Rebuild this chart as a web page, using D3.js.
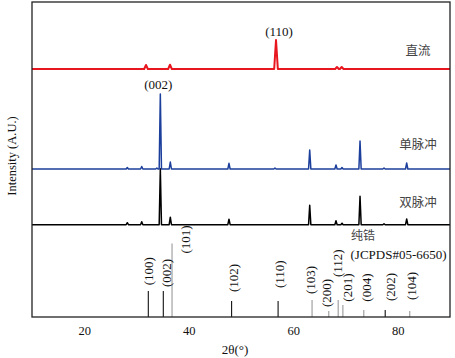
<!DOCTYPE html>
<html>
<head>
<meta charset="utf-8">
<script src="https://cdn.jsdelivr.net/npm/d3@7"></script>
<style>
  html, body { margin: 0; padding: 0; background: #fff; }
  svg { display: block; }
</style>
</head>
<body>
<svg id="chart" width="455" height="358"></svg>
<script>
// ---------------- data ----------------
const xTicks = [20, 40, 60, 80];

// peak lists [2theta, intensity (A.U.)]
const dcPeaks = [[31.82, 4], [36.41, 4.3], [56.7, 29], [68.37, 2], [69.27, 2]];
const singlePeaks = [[28.24, 1.5], [31.0, 2.5], [33.9, 1], [34.56, 75], [36.47, 7], [47.7, 5.7],
  [56.5, 1], [63.15, 19], [68.18, 4], [69.33, 1.5], [72.78, 28], [77.37, 1], [81.71, 6]];
const doublePeaks = [[28.24, 2], [31.0, 3], [34.56, 56], [36.47, 7.5], [47.7, 5.5],
  [63.15, 19.5], [68.18, 4], [69.33, 1.5], [72.78, 28.5], [77.37, 1], [81.71, 5.7]];

// series names and vertical offsets (A.U.)
const seriesNames = ["直流", "单脉冲", "双脉冲"];
const seriesOffsets = [248, 148, 92.3];

// reference pattern: pure Zr JCPDS#05-6650
const refHkl = ["(100)", "(002)", "(101)", "(102)", "(110)", "(103)", "(200)", "(112)", "(201)", "(004)", "(202)", "(104)"];
const refPos = [32.26, 35.13, 36.8, 48.2, 57.1, 63.6, 66.8, 68.6, 69.5, 73.5, 77.6, 82.3];
const refInt = [26, 26, 73.5, 16, 16, 17, 6, 17, 12, 7, 7, 6];
const refDark = [true, true, false, true, true, false, false, false, false, false, true, false];

// ---------------- layout ----------------
const SERIF = "'Liberation Serif', 'Times New Roman', 'DejaVu Serif', serif";
const CJK = "'Noto Sans CJK SC', sans-serif";
const margin = { left: 32, right: 5, top: 2, bottom: 41 };
const W = 455, H = 358;
const svg = d3.select("#chart").attr("font-family", SERIF);

const x = d3.scaleLinear().domain([10, 90]).range([margin.left, W - margin.right]);
const y = d3.scaleLinear().domain([0, 315]).range([H - margin.bottom, margin.top]);

const colors = ["#e8161e", "#1c3f9c", "#000000"];
const widths = [2, 1.5, 1.5];
const peakHalf = [0.35, 0.22, 0.22];
// label offsets for hkl labels [dx px, gap px above bar]
const hklDx = [0, 3.4, 13, 2.3, 1.5, -2, -2, -1, 5, 3, 5, 1.7];
const hklGap = [5.7, 4, -10, 9, 13, 6, 4, 23, 3.3, 8.3, 9, 11];

svg.append("clipPath").attr("id", "clip").append("rect")
  .attr("x", x.range()[0]).attr("y", y.range()[1])
  .attr("width", x.range()[1] - x.range()[0]).attr("height", y.range()[0] - y.range()[1]);

// build pattern points from peak list
function pattern(peaks, offset, hw) {
  const pts = [[10, offset]];
  peaks.slice().sort((a, b) => a[0] - b[0]).forEach(([p, h]) => {
    pts.push([p - hw, offset]);
    pts.push([p, offset + h]);
    pts.push([p + hw, offset]);
  });
  pts.push([90, offset]);
  return pts;
}

const line = d3.line().x(d => x(d[0])).y(d => y(d[1]));
const allPeaks = [dcPeaks, singlePeaks, doublePeaks];

const g = svg.append("g").attr("clip-path", "url(#clip)");

// reference bars
g.selectAll("line.ref").data(refPos).enter().append("line")
  .attr("class", "ref")
  .attr("x1", d => x(d)).attr("x2", d => x(d))
  .attr("y1", y(0)).attr("y2", (d, i) => y(refInt[i]))
  .attr("stroke", (d, i) => refDark[i] ? "#111" : "#999")
  .attr("stroke-width", 1.1);

// patterns: draw bottom first so blue overlays black peak
[2, 1, 0].forEach(i => {
  g.append("path")
    .datum(pattern(allPeaks[i], seriesOffsets[i], peakHalf[i]))
    .attr("d", line)
    .attr("fill", "none")
    .attr("stroke", colors[i])
    .attr("stroke-width", widths[i])
    .attr("stroke-linejoin", "round");
});

// hkl labels on reference bars
refHkl.forEach((t, i) => {
  const px = x(refPos[i]) + hklDx[i];
  const py = y(refInt[i]) - hklGap[i];
  svg.append("text")
    .attr("transform", `translate(${px},${py}) rotate(-90)`)
    .attr("dy", "0.35em")
    .attr("font-family", SERIF)
    .attr("font-size", 13)
    .attr("fill", "#111")
    .text(t);
});

// frame
svg.append("rect")
  .attr("x", x.range()[0]).attr("y", y.range()[1])
  .attr("width", x.range()[1] - x.range()[0]).attr("height", y.range()[0] - y.range()[1])
  .attr("fill", "none").attr("stroke", "#222").attr("stroke-width", 1.3);

// x axis
const xAxis = svg.append("g")
  .attr("transform", `translate(0,${y(0)})`)
  .call(d3.axisBottom(x).tickValues(xTicks).tickSize(0).tickPadding(9))
  .attr("font-family", SERIF);
xAxis.select(".domain").remove();
xAxis.selectAll("text")
  .attr("font-family", SERIF)
  .attr("font-size", 12.5).attr("fill", "#111");

// axis titles
svg.append("text").attr("x", 235).attr("y", 354)
  .attr("text-anchor", "middle").attr("font-family", SERIF).attr("font-size", 13).attr("fill", "#111")
  .text("2θ(°)");
svg.append("text")
  .attr("transform", `translate(12,156) rotate(-90)`)
  .attr("text-anchor", "middle").attr("dy", "0.35em")
  .attr("font-family", SERIF).attr("font-size", 12.5).attr("fill", "#111")
  .text("Intensity (A.U.)");

// peak annotations
svg.append("text").attr("x", x(56.7) + 3).attr("y", 36)
  .attr("text-anchor", "middle").attr("font-family", SERIF).attr("font-size", 13).attr("fill", "#111").text("(110)");
svg.append("text").attr("x", x(34.56) - 2).attr("y", 89)
  .attr("text-anchor", "middle").attr("font-family", SERIF).attr("font-size", 13).attr("fill", "#111").text("(002)");

// series labels
const seriesLabelY = [51, 145, 203];
seriesNames.forEach((n, i) => {
  svg.append("text")
    .attr("x", 418).attr("y", seriesLabelY[i]).attr("dy", "0.35em")
    .attr("text-anchor", "middle").attr("font-family", CJK).attr("font-size", 12.5).attr("fill", "#444")
    .text(n);
});

// reference label
svg.append("text")
  .attr("x", 351).attr("y", 236).attr("dy", "0.35em")
  .attr("font-family", CJK).attr("font-size", 12).attr("fill", "#444").text("纯锆");
svg.append("text")
  .attr("x", 350.5).attr("y", 259)
  .attr("font-family", SERIF).attr("font-size", 13).attr("fill", "#111").text("(JCPDS#05-6650)");
</script>
</body>
</html>
